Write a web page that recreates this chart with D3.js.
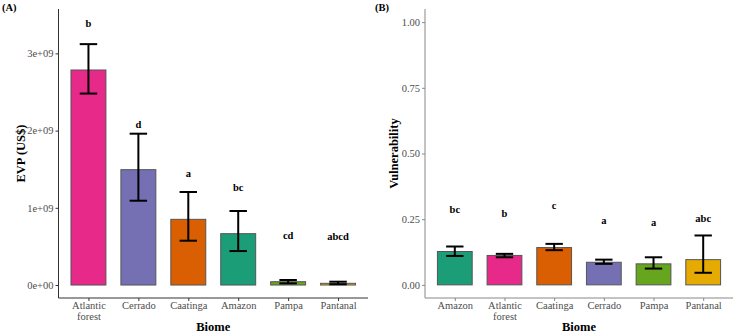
<!DOCTYPE html>
<html>
<head>
<meta charset="utf-8">
<script src="https://cdn.jsdelivr.net/npm/d3@7"></script>
<style>
  body { margin: 0; background: #fff; }
  text { font-family: "Liberation Serif", "Times New Roman", serif; }
</style>
</head>
<body>
<div id="chart"></div>
<script>
// panel A: EVP by biome
const biomesA = ["Atlantic forest", "Cerrado", "Caatinga", "Amazon", "Pampa", "Pantanal"];
const evpMean = [2.785e9, 1.494e9, 0.851e9, 0.665e9, 0.043e9, 0.022e9];
const evpHigh = [3.12e9, 1.96e9, 1.205e9, 0.959e9, 0.065e9, 0.043e9];
const evpLow = [2.48e9, 1.092e9, 0.574e9, 0.44e9, 0.022e9, 0.01e9];
const evpLetters = ["b", "d", "a", "bc", "cd", "abcd"];
const evpLetterY = [3.39e9, 2.09e9, 1.45e9, 1.27e9, 0.65e9, 0.635e9];
const evpTicks = [0, 1e9, 2e9, 3e9];
const evpTickLabels = ["0e+00", "1e+09", "2e+09", "3e+09"];

// panel B: vulnerability by biome
const biomesB = ["Amazon", "Atlantic forest", "Caatinga", "Cerrado", "Pampa", "Pantanal"];
const vulMean = [0.127, 0.112, 0.142, 0.086, 0.080, 0.096];
const vulHigh = [0.146, 0.118, 0.156, 0.096, 0.105, 0.188];
const vulLow = [0.110, 0.105, 0.132, 0.080, 0.062, 0.046];
const vulLetters = ["bc", "b", "c", "a", "a", "abc"];
const vulLetterY = [0.288, 0.273, 0.303, 0.246, 0.240, 0.256];
const vulTicks = [0, 0.25, 0.5, 0.75, 1];

const colors = {
  "Amazon": "#1B9E77",
  "Atlantic forest": "#E7298A",
  "Caatinga": "#D95F02",
  "Cerrado": "#7570B3",
  "Pampa": "#66A61E",
  "Pantanal": "#E6AB02"
};

const serif = "Liberation Serif, Times New Roman, serif";

const svg = d3.select("#chart").append("svg")
  .attr("width", 736)
  .attr("height", 333);

function panel(opts) {
  const g = svg.append("g");
  const n = opts.cats.length;

  // ggplot style discrete expansion: 0.6 units on each side
  const x = d3.scaleLinear()
    .domain([0.4, n + 0.6])
    .range([opts.left, opts.right]);
  const y = d3.scaleLinear()
    .domain(opts.domain)
    .range([opts.bottom, opts.top]);

  const data = opts.cats.map((c, i) => ({
    cat: c, i: i + 1, mean: opts.mean[i], hi: opts.hi[i], lo: opts.lo[i],
    letter: opts.letters[i], ly: opts.letterY[i]
  }));

  const bw = x(1.35) - x(1);
  g.selectAll(".bar").data(data).enter().append("rect")
    .attr("x", d => x(d.i) - bw)
    .attr("width", bw * 2)
    .attr("y", d => y(d.mean))
    .attr("height", d => y(0) - y(d.mean))
    .attr("fill", d => colors[d.cat])
    .attr("stroke", "#555")
    .attr("stroke-width", 1);

  const cw = x(1.175) - x(1);
  const eb = g.selectAll(".err").data(data).enter().append("g")
    .attr("stroke", "#000")
    .attr("stroke-width", 2);
  eb.append("line")
    .attr("x1", d => x(d.i)).attr("x2", d => x(d.i))
    .attr("y1", d => y(d.hi)).attr("y2", d => y(d.lo));
  eb.append("line")
    .attr("x1", d => x(d.i) - cw).attr("x2", d => x(d.i) + cw)
    .attr("y1", d => y(d.hi)).attr("y2", d => y(d.hi));
  eb.append("line")
    .attr("x1", d => x(d.i) - cw).attr("x2", d => x(d.i) + cw)
    .attr("y1", d => y(d.lo)).attr("y2", d => y(d.lo));

  g.selectAll(".lbl").data(data).enter().append("text")
    .attr("x", d => x(d.i))
    .attr("y", d => y(d.ly) + 4)
    .attr("text-anchor", "middle")
    .attr("font-size", 10.5)
    .attr("font-weight", "bold")
    .text(d => d.letter);

  // axes
  const yAxis = d3.axisLeft(y)
    .tickValues(opts.ticks)
    .tickFormat((d, i) => opts.tickLabels[i])
    .tickSize(3)
    .tickPadding(2);
  const ya = g.append("g")
    .attr("transform", "translate(" + opts.left + ",0)")
    .call(yAxis)
    .attr("font-family", serif)
    .attr("font-size", 10.5);
  ya.select(".domain").remove();
  ya.append("line")
    .attr("x1", 0).attr("x2", 0)
    .attr("y1", opts.top).attr("y2", opts.bottom)
    .attr("stroke", opts.axisColor);
  ya.selectAll(".tick line").attr("stroke", opts.axisColor);
  ya.selectAll(".tick text")
    .attr("fill", "#4d4d4d");

  const xAxis = d3.axisBottom(x)
    .tickValues(data.map(d => d.i))
    .tickFormat("")
    .tickSize(3);
  const xa = g.append("g")
    .attr("transform", "translate(0," + opts.bottom + ")")
    .call(xAxis)
    .attr("font-family", serif)
    .attr("font-size", 10.5);
  xa.select(".domain").remove();
  xa.append("line")
    .attr("x1", opts.left).attr("x2", opts.right)
    .attr("y1", 0).attr("y2", 0)
    .attr("stroke", opts.axisColor);
  xa.selectAll(".tick line").attr("stroke", opts.axisColor);
  xa.selectAll(".tick").each(function(d, i) {
    const words = data[i].cat.split(" ");
    const t = d3.select(this).append("text")
      .attr("y", 11)
      .attr("text-anchor", "middle")
      .attr("fill", "#4d4d4d");
    words.forEach((w, k) => {
      t.append("tspan").attr("x", 0).attr("dy", k === 0 ? 0 : 11).text(w);
    });
  });

  g.append("text")
    .attr("x", (opts.left + opts.right) / 2)
    .attr("y", 331)
    .attr("text-anchor", "middle")
    .attr("font-size", 12.5)
    .attr("font-weight", "bold")
    .text("Biome");

  g.append("text")
    .attr("transform", "translate(" + opts.titleX + "," + ((opts.top + opts.bottom) / 2) + ") rotate(-90)")
    .attr("text-anchor", "middle")
    .attr("font-size", 12.5)
    .attr("font-weight", "bold")
    .text(opts.yTitle);

  g.append("text")
    .attr("x", opts.tagX)
    .attr("y", 11)
    .attr("font-size", 10.5)
    .attr("font-weight", "bold")
    .text(opts.tag);
}

panel({
  cats: biomesA, mean: evpMean, hi: evpHigh, lo: evpLow,
  letters: evpLetters, letterY: evpLetterY,
  ticks: evpTicks, tickLabels: evpTickLabels,
  domain: [-0.168e9, 3.575e9],
  left: 58.5, right: 368, top: 9, bottom: 298,
  axisColor: "#333", yTitle: "EVP (US$)", titleX: 25,
  tag: "(A)", tagX: 2
});

panel({
  cats: biomesB, mean: vulMean, hi: vulHigh, lo: vulLow,
  letters: vulLetters, letterY: vulLetterY,
  ticks: vulTicks, tickLabels: ["0.00", "0.25", "0.50", "0.75", "1.00"],
  domain: [-0.05, 1.05],
  left: 425, right: 733, top: 9, bottom: 298,
  axisColor: "#888", yTitle: "Vulnerability", titleX: 398,
  tag: "(B)", tagX: 375
});
</script>
</body>
</html>
